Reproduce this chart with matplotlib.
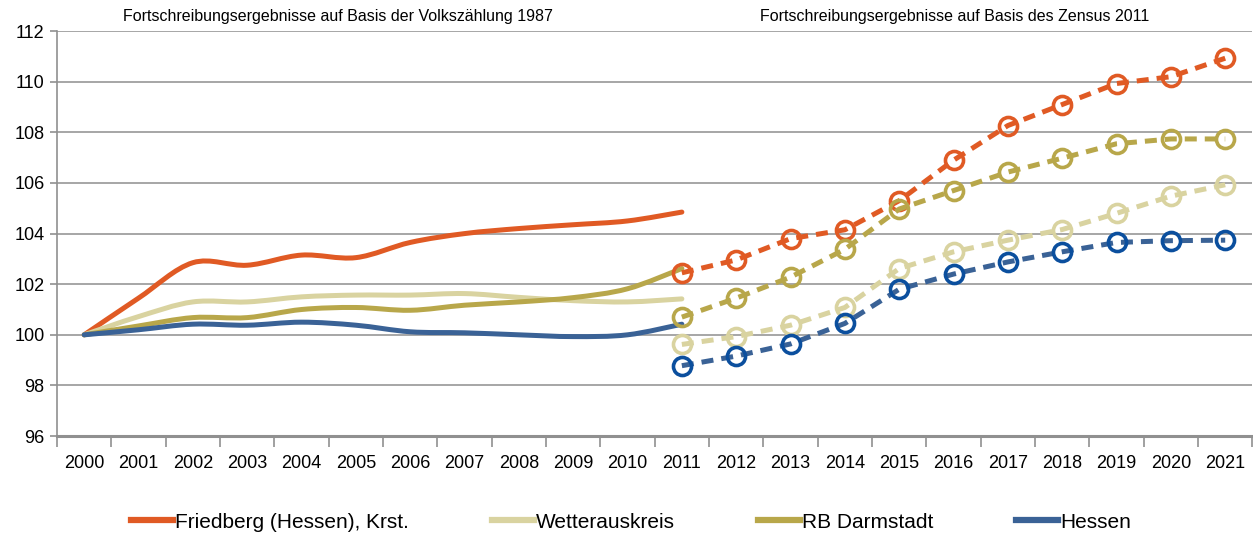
import numpy as np
import matplotlib.pyplot as plt
from matplotlib.path import Path
from matplotlib.patches import PathPatch
from matplotlib.lines import Line2D

plt.rcParams['font.family'] = ['Liberation Sans', 'DejaVu Sans']

years = [str(y) for y in range(2000, 2022)]
names = ['Friedberg (Hessen), Krst.', 'Wetterauskreis', 'RB Darmstadt', 'Hessen']

# Volkszählung 1987 basis, 2000-2011
friedberg_old = [100.0, 101.45, 102.85, 102.75, 103.15, 103.05, 103.65, 104.0, 104.2, 104.35, 104.5, 104.85]
wetterau_old = [100.0, 100.72, 101.3, 101.3, 101.5, 101.57, 101.57, 101.63, 101.48, 101.35, 101.3, 101.42]
darmstadt_old = [100.0, 100.35, 100.68, 100.68, 101.0, 101.08, 100.97, 101.17, 101.3, 101.47, 101.82, 102.62]
hessen_old = [100.0, 100.2, 100.42, 100.38, 100.5, 100.38, 100.12, 100.08, 100.0, 99.93, 100.0, 100.42]

# Zensus 2011 basis, 2011-2021
friedberg_new = [102.45, 102.96, 103.8, 104.15, 105.3, 106.9, 108.27, 109.1, 109.93, 110.2, 110.93]
wetterau_new = [99.62, 99.93, 100.38, 101.08, 102.62, 103.28, 103.74, 104.16, 104.8, 105.48, 105.93]
darmstadt_new = [100.7, 101.45, 102.28, 103.38, 104.97, 105.7, 106.43, 106.98, 107.55, 107.74, 107.74]
hessen_new = [98.78, 99.16, 99.64, 100.45, 101.8, 102.4, 102.88, 103.28, 103.65, 103.72, 103.74]

old_series = [friedberg_old, wetterau_old, darmstadt_old, hessen_old]
new_series = [friedberg_new, wetterau_new, darmstadt_new, hessen_new]
line_colors = ['#E05A24', '#D9D3A0', '#B8A74A', '#3A6296']
marker_colors = ['#E05A24', '#D9D3A0', '#B8A74A', '#0B4F9E']


def smooth_path(x, y):
    # Excel-style smoothed line: cubic Bezier through the points
    pts = np.column_stack([x, y]).astype(float)
    ext = np.vstack([pts[0], pts, pts[-1]])
    verts = [pts[0]]
    codes = [Path.MOVETO]
    for i in range(len(pts) - 1):
        p0, p1, p2, p3 = ext[i], ext[i + 1], ext[i + 2], ext[i + 3]
        verts += [p1 + (p2 - p0) / 6, p2 - (p3 - p1) / 6, p2]
        codes += [Path.CURVE4] * 3
    return Path(verts, codes)


fig = plt.figure(figsize=(12.53, 5.37), dpi=100)
ax = fig.add_axes([0.0455, 0.188, 0.954, 0.754])

x_old = np.arange(0, 12)
x_new = np.arange(11, 22)
for i in range(4):
    ax.add_patch(PathPatch(smooth_path(x_old, old_series[i]), fill=False,
                           edgecolor=line_colors[i], lw=3.6, capstyle='round',
                           joinstyle='round', zorder=3 + i * 0.1))
for i in range(4):
    ax.plot(x_new, new_series[i], color=line_colors[i], lw=3.6, ls=(0, (2.4, 1.6)),
            marker='o', ms=13, mfc='none', mec=marker_colors[i], mew=2.6,
            zorder=4 + i * 0.1)

ax.set_xlim(-0.5, 21.5)
ax.set_ylim(96, 112)
ax.set_yticks(np.arange(96, 113, 2))
ax.set_xticks(np.arange(22))
ax.set_xticklabels(years)
ax.set_xticks(np.arange(-0.5, 22, 1), minor=True)
ax.tick_params(axis='x', which='major', length=0, pad=14, labelsize=13)
ax.tick_params(axis='x', which='minor', length=8, width=1.2, color='#909090')
ax.tick_params(axis='y', length=5, width=1.2, color='#909090', labelsize=13, pad=4)
ax.yaxis.grid(True, color='#A6A6A6', lw=1.4)
ax.set_axisbelow(True)
for s in ['top', 'right']:
    ax.spines[s].set_visible(False)
ax.spines['left'].set_color('#909090')
ax.spines['left'].set_linewidth(1.2)
ax.spines['bottom'].set_color('#909090')
ax.spines['bottom'].set_linewidth(2.2)

fig.text(338 / 1253, 1 - 17 / 537, 'Fortschreibungsergebnisse auf Basis der Volkszählung 1987',
         ha='center', va='center', fontsize=11.5)
fig.text(955 / 1253, 1 - 17 / 537, 'Fortschreibungsergebnisse auf Basis des Zensus 2011',
         ha='center', va='center', fontsize=11.5)

handles = [Line2D([], [], color=c, lw=4.5) for c in line_colors]
fig.legend(handles, names, loc='center', bbox_to_anchor=(631 / 1253, 1 - 522 / 537), ncol=4,
           frameon=False, fontsize=15, handlelength=2.0, handletextpad=0.1,
           columnspacing=4.0)

fig.savefig('out.png', dpi=100)
